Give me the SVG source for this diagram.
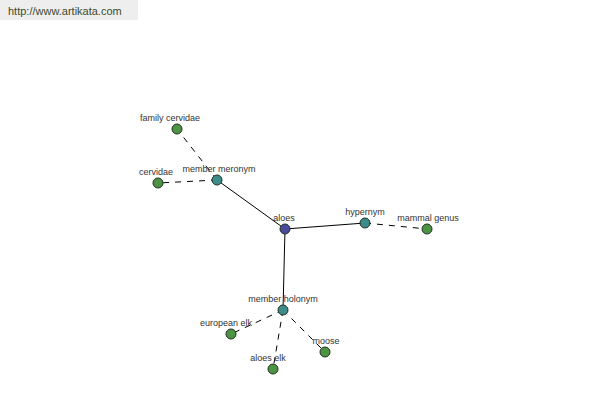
<svg xmlns="http://www.w3.org/2000/svg" width="600" height="400" viewBox="0 0 600 400">
<style>
text{font-family:"Liberation Sans",Arial,sans-serif;font-size:9px;fill:#333;text-anchor:middle}
.n{stroke:#203020;stroke-width:1}
.root{fill:#4a4a9c}
.mid{fill:#3c8c8c}
.leaf{fill:#4c9444}
.s{stroke:#000;stroke-width:1;fill:none}
.d{stroke:#000;stroke-width:1;fill:none;stroke-dasharray:6,6}
</style>
<rect width="600" height="400" fill="#fff"/>
<rect x="0" y="0" width="138" height="20" fill="#eeeeee"/>
<text x="8" y="15" style="text-anchor:start;font-size:11px;fill:#3c4a2c">http://www.artikata.com</text>
<g id="connectors">
<line class="s" x1="285" y1="229" x2="217" y2="180"/>
<line class="s" x1="285" y1="229" x2="365" y2="223"/>
<line class="s" x1="285" y1="229" x2="283" y2="310"/>
<line class="d" x1="217" y1="180" x2="177" y2="129"/>
<line class="d" x1="217" y1="180" x2="158" y2="183"/>
<line class="d" x1="365" y1="223" x2="427" y2="229"/>
<line class="d" x1="283" y1="310" x2="231" y2="334"/>
<line class="d" x1="283" y1="310" x2="273" y2="369"/>
<line class="d" x1="283" y1="310" x2="325" y2="352"/>
</g>
<g id="aloes"><circle class="n root" cx="285" cy="229" r="5"/><text x="284" y="221">aloes</text></g>
<g id="member-meronym"><circle class="n mid" cx="217" cy="180" r="5"/><text x="219" y="172">member meronym</text></g>
<g id="hypernym"><circle class="n mid" cx="365" cy="223" r="5"/><text x="365" y="215">hypernym</text></g>
<g id="member-holonym"><circle class="n mid" cx="283" cy="310" r="5"/><text x="283" y="302">member holonym</text></g>
<g id="family-cervidae"><circle class="n leaf" cx="177" cy="129" r="5"/><text x="170" y="121">family cervidae</text></g>
<g id="cervidae"><circle class="n leaf" cx="158" cy="183" r="5"/><text x="156" y="175">cervidae</text></g>
<g id="mammal-genus"><circle class="n leaf" cx="427" cy="229" r="5"/><text x="428" y="221">mammal genus</text></g>
<g id="european-elk"><circle class="n leaf" cx="231" cy="334" r="5"/><text x="226" y="326">european elk</text></g>
<g id="aloes-elk"><circle class="n leaf" cx="273" cy="369" r="5"/><text x="268" y="361">aloes elk</text></g>
<g id="moose"><circle class="n leaf" cx="325" cy="352" r="5"/><text x="326" y="344">moose</text></g>
</svg>
